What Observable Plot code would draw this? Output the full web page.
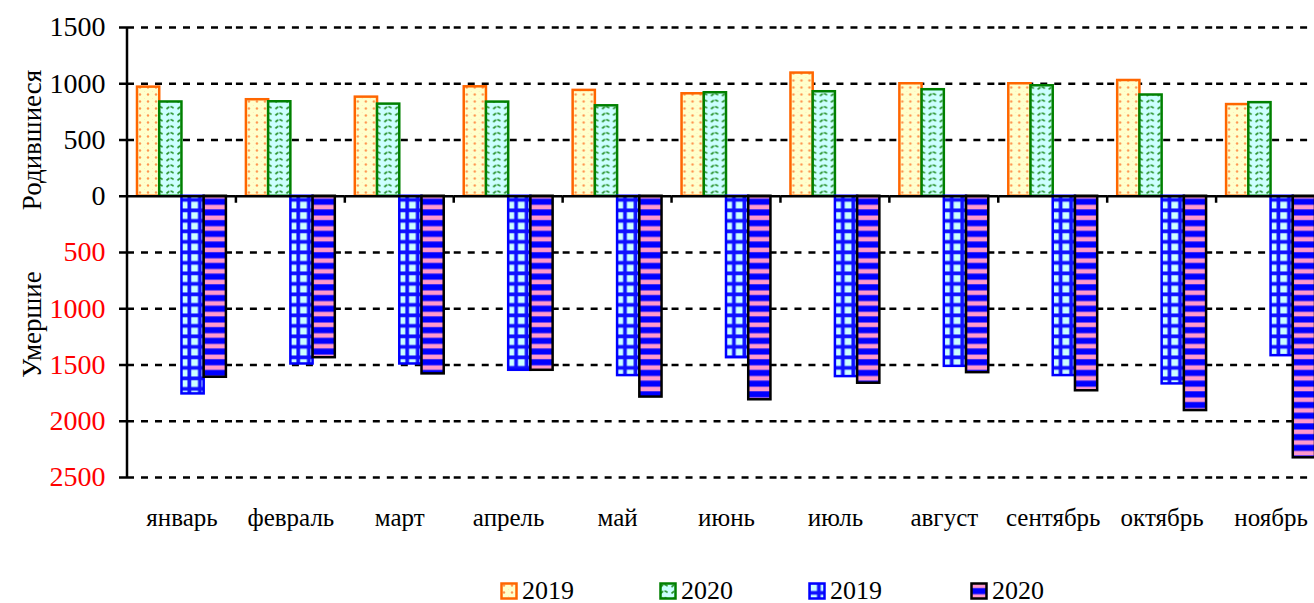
<!DOCTYPE html>
<html>
<head>
<meta charset="utf-8">
<script src="https://cdn.jsdelivr.net/npm/d3@7"></script>
<script src="https://cdn.jsdelivr.net/npm/@observablehq/plot@0.6"></script>
<style>
  body { margin: 0; background: #fff; font-family: "Liberation Serif", "DejaVu Serif", "Times New Roman", Times, serif; overflow: hidden; }
  #chart { width: 1314px; overflow: hidden; }
  #chart svg text { font-family: "Liberation Serif", "DejaVu Serif", "Times New Roman", Times, serif !important; }
  #legend { position: relative; width: 1314px; height: 43px; font-size: 26px; color: #000; }
  #legend .item { position: absolute; top: 20px; height: 22px; display: flex; align-items: center; gap: 4px; line-height: 22px; }
  #legend svg { display: block; }
</style>
</head>
<body>
<svg width="0" height="0" style="position:absolute">
  <defs>
    <pattern id="pB19" width="8" height="7" patternUnits="userSpaceOnUse">
      <rect width="8" height="7" fill="#FFFFCC"/>
      <circle cx="4" cy="3.5" r="1.2" fill="#FF9650"/>
      <circle cx="0" cy="0" r="0.7" fill="#FFC89A"/>
    </pattern>
    <pattern id="pB20" width="11" height="6.5" patternUnits="userSpaceOnUse">
      <rect width="11" height="6.5" fill="#CCFFFF"/>
      <path d="M1.5,5 Q5.5,0.5 9.5,5" fill="none" stroke="#1E8B1E" stroke-width="1.6" stroke-dasharray="3.5,1.2"/>
    </pattern>
    <pattern id="pD19" width="10.5" height="10.5" patternUnits="userSpaceOnUse">
      <rect width="10.5" height="10.5" fill="#1010FF"/>
      <rect x="2.2" y="2.2" width="6.8" height="6.8" fill="#CCFFFF"/>
    </pattern>
    <pattern id="pD20" width="10" height="10.7" patternUnits="userSpaceOnUse">
      <rect width="10" height="10.7" fill="#0000FF"/>
      <rect y="1.5" width="10" height="4.6" fill="#FF99CC"/>
    </pattern>
  </defs>
</svg>
<div id="chart"></div>
<div id="legend"></div>
<script>
// ---- data ----
const months = ["январь", "февраль", "март", "апрель", "май", "июнь", "июль", "август", "сентябрь", "октябрь", "ноябрь"];
const births2019 = [970, 858, 881, 973, 941, 911, 1095, 1000, 1000, 1029, 815];
const births2020 = [838, 840, 819, 837, 804, 920, 929, 947, 982, 900, 832];
const deaths2019 = [1757, 1491, 1491, 1547, 1594, 1435, 1603, 1512, 1594, 1668, 1417];
const deaths2020 = [1609, 1435, 1579, 1547, 1785, 1809, 1662, 1568, 1729, 1905, 2325];
const birthTicks = [0, 500, 1000, 1500];
const deathTicks = [500, 1000, 1500, 2000, 2500];
const legendLabels = ["2019", "2020", "2019", "2020"];
const birthsTitle = "Родившиеся";
const deathsTitle = "Умершие";

// ---- series setup ----
const series = [
  {key: "b19", values: births2019, sign: 1, fill: "url(#pB19)", stroke: "#FF6600"},
  {key: "b20", values: births2020, sign: 1, fill: "url(#pB20)", stroke: "#008000"},
  {key: "d19", values: deaths2019, sign: -1, fill: "url(#pD19)", stroke: "#0000FF"},
  {key: "d20", values: deaths2020, sign: -1, fill: "url(#pD20)", stroke: "#000000"}
];
const rows = series.flatMap(s => months.map((m, i) => ({month: m, key: s.key, v: s.sign * s.values[i]})));
const gridVals = [...birthTicks.filter(d => d > 0), ...deathTicks.map(d => -d)];

const FONT = "'Liberation Serif', 'DejaVu Serif', 'Times New Roman', Times, serif";

const plot = Plot.plot({
  width: 1314,
  height: 560,
  marginLeft: 127,
  marginRight: 0,
  marginTop: 27,
  marginBottom: 83,
  style: {fontFamily: FONT, background: "#fff", overflow: "hidden"},
  fx: {domain: months, padding: 0, range: [127, 1325], round: false, label: null},
  x: {domain: series.map(s => s.key), paddingInner: 0, paddingOuter: 0.45, round: false, axis: null},
  y: {domain: [-2500, 1500], label: null},
  marks: [
    Plot.ruleY(gridVals, {stroke: "#000", strokeWidth: 2.5, strokeDasharray: "7,7"}),
    ...series.map(s => Plot.barY(rows.filter(r => r.key === s.key), {
      fx: "month", x: "key", y: "v",
      fill: s.fill, stroke: s.stroke, strokeWidth: 2.5
    })),
    Plot.ruleY([0], {stroke: "#000", strokeWidth: 2.5}),
    Plot.axisY({ticks: birthTicks, tickFormat: d => String(d), tickSize: 8, tickPadding: 14, fontSize: 28, fontFamily: FONT, stroke: "#000", strokeWidth: 2.5, fill: "#000", label: null}),
    Plot.axisY({ticks: deathTicks.map(d => -d), tickFormat: d => String(Math.abs(d)), tickSize: 8, tickPadding: 14, fontSize: 28, fontFamily: FONT, stroke: "#000", strokeWidth: 2.5, fill: "#FF0000", label: null}),
    Plot.axisFx({anchor: "bottom", tickSize: 0, tickPadding: 31, fontSize: 25, fontFamily: FONT, label: null}),
    Plot.text([{month: months[0], y: 500, t: birthsTitle}, {month: months[0], y: -1140, t: deathsTitle}], {
      fx: "month", y: "y", text: "t", frameAnchor: "left", textAnchor: "middle", dx: -95, rotate: -90, fontSize: 27, fontFamily: FONT, fill: "#000"
    })
  ]
});

// y axis line and category boundary ticks drawn from the plot's own scales
const ys = plot.scale("y");
const fxs = plot.scale("fx");
const svg = d3.select(plot);
const g = svg.append("g").attr("stroke", "#000").attr("stroke-width", 2.5);
const left = fxs.apply(months[0]);
g.append("line").attr("x1", left).attr("x2", left)
  .attr("y1", ys.apply(1500)).attr("y2", ys.apply(-2500));
months.slice(1).forEach(m => {
  const xb = fxs.apply(m);
  g.append("line").attr("x1", xb).attr("x2", xb).attr("y1", ys.apply(0)).attr("y2", ys.apply(0) + 7);
});
document.getElementById("chart").append(plot);

// legend
const legendPos = [500, 659, 808, 970];
const leg = d3.select("#legend");
series.forEach((s, i) => {
  const it = leg.append("div").attr("class", "item").style("left", legendPos[i] + "px");
  const sw = it.append("svg").attr("width", 18).attr("height", 18);
  sw.append("rect").attr("x", 1.5).attr("y", 1.5).attr("width", 15).attr("height", 15)
    .attr("fill", s.fill).attr("stroke", s.stroke).attr("stroke-width", 2.5);
  it.append("span").text(legendLabels[i]);
});
</script>
</body>
</html>
